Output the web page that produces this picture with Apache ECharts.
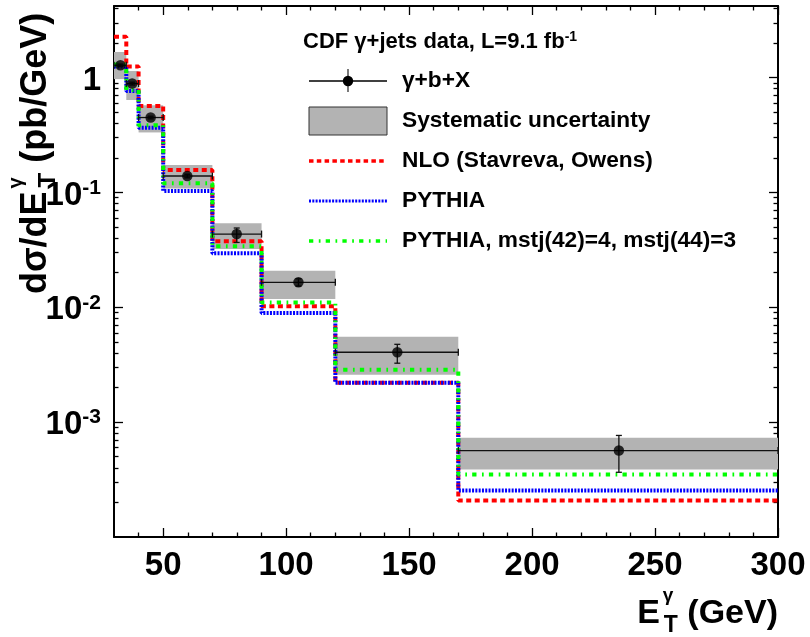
<!DOCTYPE html>
<html><head><meta charset="utf-8">
<script src="https://cdn.jsdelivr.net/npm/echarts@6/dist/echarts.min.js"></script>
<style>html,body{margin:0;padding:0;background:#fff}#c{width:810px;height:637px}</style>
</head><body><div id="c"></div>
<script>
// ---- data ----
const binEdges = [30, 35, 40, 50, 70, 90, 120, 170, 300];
const dataX = [32.6, 37.4, 44.9, 59.8, 79.9, 105, 145.2, 235.3];
const dataY = [1.28, 0.887, 0.449, 0.139, 0.0434, 0.0165, 0.00406, 0.000566];
const statErrUp = [0.03, 0.025, 0.012, 0.005, 0.0056, 0.0012, 0.0007, 0.0002];
const statErrDown = [0.03, 0.025, 0.012, 0.005, 0.0067, 0.0012, 0.0008, 0.0002];
const systLow = [0.97, 0.638, 0.333, 0.108, 0.0321, 0.0118, 0.00259, 0.000387];
const systHigh = [1.67, 1.14, 0.574, 0.173, 0.054, 0.0208, 0.00555, 0.00073];
const nloValues = [2.27, 1.25, 0.567, 0.157, 0.0375, 0.0102, 0.0022, 0.000208];
const pythiaValues = [1.25, 0.765, 0.365, 0.103, 0.0295, 0.0089, 0.0022, 0.000254];
const pythiaTunedValues = [1.3, 0.78, 0.385, 0.12, 0.034, 0.011, 0.00286, 0.00035];
const xMajorTicks = [50, 100, 150, 200, 250, 300];
const xMinorTicks = [40, 60, 70, 80, 90, 110, 120, 130, 140, 160, 170, 180, 190, 210, 220, 230, 240, 260, 270, 280, 290];
const yMajorTicks = [0.001, 0.01, 0.1, 1];
const yMinorTicks = [0.0002, 0.0003, 0.0004, 0.0005, 0.0006, 0.0007, 0.0008, 0.0009,
  0.002, 0.003, 0.004, 0.005, 0.006, 0.007, 0.008, 0.009,
  0.02, 0.03, 0.04, 0.05, 0.06, 0.07, 0.08, 0.09,
  0.2, 0.3, 0.4, 0.5, 0.6, 0.7, 0.8, 0.9, 2, 3, 4];
const xRange = [30, 300];
const yRange = [0.0001, 4.2];

// ---- build ----
const FONT = "'Liberation Sans', Arial, Helvetica, sans-serif";
const chart = echarts.init(document.getElementById('c'));
const mctx = document.createElement('canvas').getContext('2d');
function tw(txt, size) { mctx.font = 'bold ' + size + 'px ' + FONT; return mctx.measureText(txt).width; }

function stepData(vals) {
  const d = vals.map((v, i) => [binEdges[i], v]);
  d.push([binEdges[binEdges.length - 1], vals[vals.length - 1]]);
  return d;
}
function xAx(pos, ticks, len, labels, line) {
  return {
    type: 'value', position: pos, min: xRange[0], max: xRange[1],
    axisLine: { show: line, onZero: false, lineStyle: { color: '#000', width: 2 } },
    axisTick: { show: true, inside: true, length: len, customValues: ticks, lineStyle: { color: '#000', width: 1.3 } },
    axisLabel: labels ? { show: true, customValues: ticks, margin: 12, color: '#000',
      fontFamily: FONT, fontWeight: 'bold', fontSize: 33 } : { show: false },
    splitLine: { show: false }
  };
}
function yAx(pos, ticks, len, labels, line) {
  return {
    type: 'log', logBase: 10, position: pos, min: yRange[0], max: yRange[1],
    axisLine: { show: line, onZero: false, lineStyle: { color: '#000', width: 2 } },
    axisTick: { show: true, inside: true, length: len, customValues: ticks, lineStyle: { color: '#000', width: 1.3 } },
    axisLabel: labels ? {
      show: true, customValues: ticks, margin: 13, color: '#000', padding: [6, 0, 0, 0],
      formatter: v => {
        if (Math.abs(v - 1) < 1e-9) return '{b|1}';
        return '{b|10}{s|' + Math.round(Math.log10(v)) + '}';
      },
      rich: {
        b: { fontFamily: FONT, fontWeight: 'bold', fontSize: 33, lineHeight: 36, color: '#000' },
        s: { fontFamily: FONT, fontWeight: 'bold', fontSize: 21, lineHeight: 21, verticalAlign: 'top', color: '#000' }
      }
    } : { show: false },
    splitLine: { show: false }
  };
}

const boxData = binEdges.slice(0, -1).map((e, i) => [e, binEdges[i + 1], systLow[i], systHigh[i]]);
const errData = dataX.map((x, i) => [x, dataY[i], binEdges[i], binEdges[i + 1], dataY[i] - statErrDown[i], dataY[i] + statErrUp[i]]);

const dashRed = [5, 3.5], dashBlue = [2, 1.3], dashGreen = [4.3, 5.5, 1.7, 5.2];
const GREEN = '#00ff00';

const titleRich = (size) => ({
  m: { fontFamily: FONT, fontWeight: 'bold', fontSize: size, lineHeight: Math.round(size * 1.65), color: '#000', align: 'left' },
  g: { fontFamily: FONT, fontWeight: 'bold', fontSize: Math.round(size * 0.55), lineHeight: Math.round(size * 0.55), width: 1, align: 'left', verticalAlign: 'top', color: '#000', padding: [0, 0, 0, 3] },
  t: { fontFamily: FONT, fontWeight: 'bold', fontSize: Math.round(size * 0.68), lineHeight: Math.round(size * 0.68), align: 'left', verticalAlign: 'bottom', color: '#000', padding: [0, 0, 5, 0] }
});
const XT = 34, YT = 36;
const xTitleWidth = tw('E', XT) + 4 + tw('T', Math.round(XT * 0.68)) + tw(' (GeV)', XT);

const legendTextStyle = (y, txt) => ({
  type: 'text', x: 402, y: y,
  style: { text: txt, fill: '#000', font: 'bold 22.7px ' + FONT, verticalAlign: 'middle' }
});

const option = {
  animation: false,
  backgroundColor: '#fff',
  grid: { left: 114, right: 32, top: 6, bottom: 100 },
  xAxis: [
    xAx('bottom', xMajorTicks, 9, true, true),
    xAx('bottom', xMinorTicks, 4.5, false, false),
    xAx('top', xMajorTicks, 9, false, true),
    xAx('top', xMinorTicks, 4.5, false, false)
  ],
  yAxis: [
    yAx('left', yMajorTicks, 9, true, true),
    yAx('left', yMinorTicks, 4.5, false, false),
    yAx('right', yMajorTicks, 9, false, true),
    yAx('right', yMinorTicks, 4.5, false, false)
  ],
  series: [
    {
      type: 'custom', name: 'Systematic uncertainty', z: 1,
      encode: { x: [0, 1], y: [2, 3] },
      data: boxData,
      renderItem: (params, api) => {
        const a = api.coord([api.value(0), api.value(3)]);
        const b = api.coord([api.value(1), api.value(2)]);
        return { type: 'rect', shape: { x: a[0], y: a[1], width: b[0] - a[0], height: b[1] - a[1] },
          style: { fill: '#b3b3b3' } };
      }
    },
    { type: 'line', name: 'NLO (Stavreva, Owens)', step: 'end', showSymbol: false, z: 3,
      data: stepData(nloValues), lineStyle: { color: '#ff0000', width: 4, type: dashRed } },
    { type: 'line', name: 'PYTHIA', step: 'end', showSymbol: false, z: 3,
      data: stepData(pythiaValues), lineStyle: { color: '#0000ff', width: 4, type: dashBlue } },
    { type: 'line', name: 'PYTHIA, mstj(42)=4, mstj(44)=3', step: 'end', showSymbol: false, z: 3,
      data: stepData(pythiaTunedValues), lineStyle: { color: GREEN, width: 4, type: dashGreen } },
    {
      type: 'custom', name: 'err', z: 5,
      encode: { x: [0, 2, 3], y: [1, 4, 5] },
      data: errData,
      renderItem: (params, api) => {
        const p = api.coord([api.value(0), api.value(1)]);
        const l = api.coord([api.value(2), api.value(1)]);
        const r = api.coord([api.value(3), api.value(1)]);
        const t = api.coord([api.value(0), api.value(5)]);
        const b = api.coord([api.value(0), api.value(4)]);
        const st = { stroke: '#111', lineWidth: 1.3 };
        const e = 3.5, c = 3;
        return { type: 'group', children: [
          { type: 'line', shape: { x1: l[0], y1: p[1], x2: r[0], y2: p[1] }, style: st },
          { type: 'line', shape: { x1: l[0], y1: p[1] - e, x2: l[0], y2: p[1] + e }, style: st },
          { type: 'line', shape: { x1: r[0], y1: p[1] - e, x2: r[0], y2: p[1] + e }, style: st },
          { type: 'line', shape: { x1: p[0], y1: t[1], x2: p[0], y2: b[1] }, style: st },
          { type: 'line', shape: { x1: p[0] - c, y1: t[1], x2: p[0] + c, y2: t[1] }, style: st },
          { type: 'line', shape: { x1: p[0] - c, y1: b[1], x2: p[0] + c, y2: b[1] }, style: st }
        ] };
      }
    },
    { type: 'scatter', name: 'γ+b+X', z: 6, symbol: 'circle', symbolSize: 10.5,
      itemStyle: { color: '#000' }, data: dataX.map((x, i) => [x, dataY[i]]) }
  ],
  graphic: [
    // axis titles
    { type: 'text', x: 778 - xTitleWidth, y: 614, z: 10,
      style: { text: '{m|E}{g|γ}{t|T}{m| (GeV)}', rich: titleRich(XT), align: 'left', verticalAlign: 'middle', fill: '#000' } },
    { type: 'text', x: 36, y: 294, rotation: Math.PI / 2, z: 10,
      style: { text: '{m|dσ/dE}{g|γ}{t|T}{m| (pb/GeV)}', rich: titleRich(YT), align: 'left', verticalAlign: 'middle', fill: '#000' } },
    // legend header
    { type: 'text', x: 303, y: 42, z: 10,
      style: { text: '{h|CDF γ+jets data, L=9.1 fb}{s|-1}', align: 'left', verticalAlign: 'middle', rich: {
        h: { fontFamily: FONT, fontWeight: 'bold', fontSize: 22, lineHeight: 23, color: '#000', align: 'left' },
        s: { fontFamily: FONT, fontWeight: 'bold', fontSize: 14, lineHeight: 14, verticalAlign: 'top', color: '#000', align: 'left' } } } },
    // legend: data
    { type: 'line', z: 10, shape: { x1: 309, y1: 81, x2: 387, y2: 81 }, style: { stroke: '#000', lineWidth: 1.3 } },
    { type: 'line', z: 10, shape: { x1: 348, y1: 69, x2: 348, y2: 92 }, style: { stroke: '#333', lineWidth: 1.3 } },
    { type: 'circle', z: 10, shape: { cx: 348, cy: 81, r: 5.2 }, style: { fill: '#000' } },
    legendTextStyle(81, 'γ+b+X'),
    // legend: systematics
    { type: 'rect', z: 10, shape: { x: 309, y: 107, width: 78, height: 28 }, style: { fill: '#b3b3b3', stroke: '#333', lineWidth: 1 } },
    legendTextStyle(121, 'Systematic uncertainty'),
    // legend: NLO
    { type: 'line', z: 10, shape: { x1: 309, y1: 161, x2: 387, y2: 161 }, style: { stroke: '#ff0000', lineWidth: 3.5, lineDash: [4.5, 3.3] } },
    legendTextStyle(161, 'NLO (Stavreva, Owens)'),
    // legend: PYTHIA
    { type: 'line', z: 10, shape: { x1: 309, y1: 201, x2: 387, y2: 201 }, style: { stroke: '#0000ff', lineWidth: 3, lineDash: dashBlue } },
    legendTextStyle(201, 'PYTHIA'),
    // legend: PYTHIA tuned
    { type: 'line', z: 10, shape: { x1: 309, y1: 241, x2: 387, y2: 241 }, style: { stroke: GREEN, lineWidth: 3.5, lineDash: dashGreen } },
    legendTextStyle(241, 'PYTHIA, mstj(42)=4, mstj(44)=3')
  ]
};
chart.setOption(option);
</script>
</body></html>
